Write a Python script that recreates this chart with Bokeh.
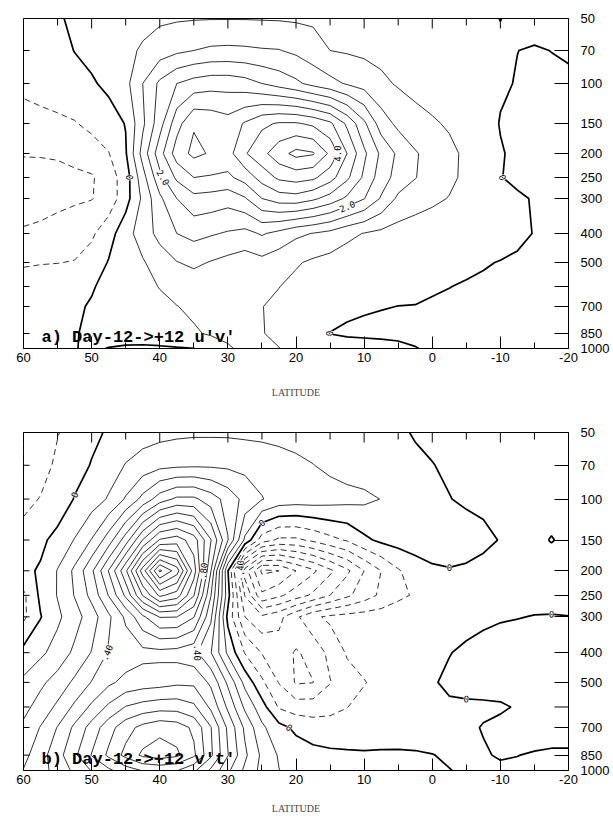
import numpy as np
from bokeh.plotting import figure
from bokeh.plotting.contour import contour_data
from bokeh.layouts import column
from bokeh.models import Range1d, FixedTicker, Label
from bokeh.core.properties import value
from bokeh.embed import file_html
from bokeh.resources import INLINE

# ---------------- data ----------------
LATITUDES = [60, 57.5, 55, 52.5, 50, 47.5, 45, 42.5, 40, 37.5, 35, 32.5, 30, 27.5, 25, 22.5, 20,
             17.5, 15, 12.5, 10, 7.5, 5, 2.5, 0, -2.5, -5, -7.5, -10, -12.5, -15, -17.5, -20]
PRESSURE_LEVELS = [50, 70, 100, 150, 200, 250, 300, 400, 500, 600, 700, 850, 1000]
PRESSURE_TICK_LABELS = ["50", "70", "100", "150", "200", "250", "300", "400", "500", "", "700", "850", "1000"]
LAT_TICKS = [60, 50, 40, 30, 20, 10, 0, -10, -20]
LAT_TICK_LABELS = ["60", "50", "40", "30", "20", "10", "0", "-10", "-20"]
LAT_MINOR_TICKS = [55, 45, 35, 25, 15, 5, -5, -15]

# panel a: u'v'  (rows = pressure levels 50..1000 hPa, columns = latitudes 60..-20)
UV_FIELD = [
    [-0.3, -0.18, -0.05, 0.08, 0.18, 0.26, 0.32, 0.38, 0.42, 0.45, 0.47, 0.48, 0.48, 0.48, 0.47, 0.46, 0.44,
     0.42, 0.4, 0.37, 0.34, 0.31, 0.28, 0.25, 0.22, 0.18, 0.14, 0.06, -0.005, 0.06, 0.15, 0.18, 0.2],
    [-0.38, -0.27, -0.14, 0.01, 0.12, 0.25, 0.4, 0.55, 0.75, 0.9, 1.0, 1.08, 1.1, 1.08, 1.04, 1.02, 0.9,
     0.72, 0.5, 0.45, 0.4, 0.36, 0.32, 0.28, 0.24, 0.2, 0.15, 0.1, 0.05, 0.003, -0.03, 0.005, 0.04],
    [-0.44, -0.37, -0.28, -0.15, -0.05, 0.1, 0.35, 1.0, 1.6, 2.0, 2.2, 2.3, 2.3, 2.2, 2.0, 1.8, 1.6,
     1.35, 1.15, 0.95, 0.8, 0.6, 0.45, 0.37, 0.3, 0.24, 0.18, 0.12, 0.05, -0.02, -0.08, -0.08, -0.06],
    [-0.6, -0.6, -0.58, -0.53, -0.38, -0.2, 0.02, 0.9, 1.8, 2.8, 3.45, 3.35, 3.2, 3.55, 3.9, 4.05, 4.05,
     3.9, 3.6, 2.9, 2.1, 1.25, 0.88, 0.65, 0.55, 0.45, 0.32, 0.18, -0.02, -0.1, -0.15, -0.15, -0.15],
    [-0.95, -0.95, -0.92, -0.85, -0.72, -0.52, -0.05, 1.2, 2.3, 3.25, 3.62, 3.45, 3.3, 3.95, 4.35, 4.8, 5.15,
     5.05, 4.4, 3.5, 2.6, 1.9, 1.4, 1.05, 0.8, 0.6, 0.42, 0.25, 0.03, -0.08, -0.12, -0.14, -0.15],
    [-1.3, -1.25, -1.2, -1.1, -1.05, -0.75, -0.25, 0.8, 1.85, 2.6, 3.0, 2.95, 2.9, 3.2, 3.7, 4.1, 4.2,
     4.1, 3.7, 3.1, 2.4, 1.75, 1.3, 1.02, 0.78, 0.6, 0.4, 0.22, 0.01, -0.06, -0.1, -0.1, -0.1],
    [-1.2, -1.18, -1.12, -1.07, -1.02, -0.8, -0.2, 0.6, 1.4, 2.0, 2.35, 2.3, 2.2, 2.45, 3.0, 3.25, 3.3,
     3.1, 2.8, 2.4, 2.02, 1.45, 0.9, 0.72, 0.6, 0.48, 0.35, 0.22, 0.12, 0.04, -0.02, -0.04, -0.05],
    [-0.95, -0.9, -0.82, -0.72, -0.58, -0.2, 0.3, 0.75, 1.15, 1.5, 1.65, 1.55, 1.45, 1.35, 1.55, 1.35, 1.1,
     0.98, 0.85, 0.62, 0.48, 0.38, 0.3, 0.25, 0.2, 0.16, 0.12, 0.09, 0.06, 0.03, -0.005, -0.03, -0.05],
    [-0.53, -0.52, -0.51, -0.48, -0.3, 0.03, 0.25, 0.45, 0.75, 0.98, 1.1, 0.97, 0.85, 0.75, 0.85, 0.7, 0.55,
     0.42, 0.33, 0.25, 0.19, 0.14, 0.1, 0.08, 0.06, 0.04, 0.025, 0.01, -0.005, -0.02, -0.03, -0.04, -0.05],
    [-0.38, -0.3, -0.22, -0.13, -0.03, 0.1, 0.22, 0.35, 0.52, 0.65, 0.72, 0.7, 0.62, 0.6, 0.6, 0.51, 0.38,
     0.26, 0.18, 0.12, 0.08, 0.05, 0.03, 0.02, 0.01, 0.002, -0.01, -0.02, -0.03, -0.04, -0.05, -0.05, -0.05],
    [-0.28, -0.2, -0.12, -0.05, 0.03, 0.1, 0.17, 0.27, 0.38, 0.49, 0.58, 0.6, 0.58, 0.55, 0.51, 0.4, 0.28,
     0.16, 0.08, 0.04, 0.015, 0.005, -0.001, -0.002, -0.01, -0.02, -0.03, -0.04, -0.05, -0.05, -0.05, -0.05, -0.05],
    [-0.22, -0.12, -0.06, -0.01, 0.03, 0.06, 0.1, 0.15, 0.22, 0.32, 0.45, 0.55, 0.6, 0.58, 0.52, 0.4, 0.25,
     0.1, -0.005, -0.03, -0.03, -0.03, -0.03, -0.03, -0.04, -0.05, -0.05, -0.05, -0.05, -0.05, -0.05, -0.05, -0.05],
    [-0.18, -0.1, -0.04, -0.005, 0.02, -0.005, -0.03, -0.05, -0.05, -0.03, -0.005, 0.2, 0.45, 0.6, 0.6, 0.51, 0.35,
     0.22, 0.15, 0.1, 0.07, 0.05, 0.03, 0.005, -0.02, -0.04, -0.05, -0.05, -0.05, -0.05, -0.05, -0.05, -0.05],
]
UV_NEG_LEVELS = [-1.0, -0.5]
UV_POS_LEVELS = [0.5, 1.0, 1.5, 2.0, 2.5, 3.0, 3.5, 4.0, 4.5, 5.0]
UV_LABELS = [("0", 0.0, 44.0, 250), ("2.0", 2.0, 39.5, 270), ("4.0", 4.0, 14.5, 190),
             ("2.0", 2.0, 11.5, 340), ("0", 0.0, -9.5, 255), ("0", 0.0, 15.5, 860)]

# panel b: v't'
VT_FIELD = [
    [-0.2, -0.15, -0.105, -0.06, -0.02, 0.01, 0.04, 0.06, 0.07, 0.08, 0.085, 0.085, 0.085, 0.08, 0.075, 0.07, 0.065,
     0.06, 0.05, 0.04, 0.03, 0.02, 0.01, -0.005, -0.015, -0.02, -0.025, -0.03, -0.03, -0.03, -0.03, -0.03, -0.03],
    [-0.2, -0.14, -0.08, -0.035, 0.005, 0.05, 0.105, 0.14, 0.17, 0.18, 0.185, 0.185, 0.18, 0.17, 0.16, 0.14, 0.12,
     0.102, 0.08, 0.06, 0.05, 0.035, 0.025, 0.012, 0.002, -0.01, -0.02, -0.025, -0.03, -0.03, -0.03, -0.03, -0.03],
    [-0.13, -0.095, -0.06, 0.005, 0.05, 0.11, 0.21, 0.33, 0.45, 0.52, 0.52, 0.45, 0.36, 0.27, 0.205, 0.16, 0.15,
     0.15, 0.14, 0.13, 0.12, 0.098, 0.07, 0.04, 0.02, 0.002, -0.01, -0.015, -0.02, -0.025, -0.025, -0.025, -0.025],
    [-0.06, -0.02, 0.03, 0.105, 0.205, 0.35, 0.55, 0.805, 1.01, 1.05, 0.95, 0.705, 0.405, 0.08, -0.15, -0.22, -0.22,
     -0.18, -0.13, -0.09, -0.02, 0.02, 0.04, 0.05, 0.05, 0.04, 0.03, 0.015, -0.003, -0.012, -0.014, 0.003, -0.014],
    [-0.02, 0.01, 0.105, 0.22, 0.38, 0.605, 0.88, 1.25, 1.62, 1.45, 1.05, 0.605, 0.005, -0.55, -0.82, -0.8, -0.7,
     -0.62, -0.52, -0.42, -0.3, -0.2, -0.11, -0.05, -0.015, -0.005, -0.01, -0.02, -0.025, -0.03, -0.03, -0.03, -0.03],
    [-0.12, 0.02, 0.105, 0.205, 0.33, 0.505, 0.72, 1.005, 1.22, 1.15, 0.905, 0.505, 0.04, -0.405, -0.68, -0.62, -0.55,
     -0.48, -0.4, -0.32, -0.25, -0.18, -0.12, -0.09, -0.06, -0.045, -0.035, -0.03, -0.025, -0.02, -0.02, -0.02, -0.02],
    [-0.12, -0.005, 0.08, 0.16, 0.25, 0.38, 0.52, 0.68, 0.805, 0.802, 0.705, 0.42, -0.03, -0.3, -0.38, -0.33, -0.22,
     -0.12, -0.08, -0.065, -0.055, -0.05, -0.045, -0.04, -0.035, -0.03, -0.02, -0.012, -0.005, -0.002, 0.002, 0.003, 0.001],
    [0.03, 0.08, 0.14, 0.22, 0.305, 0.41, 0.44, 0.47, 0.47, 0.46, 0.43, 0.305, 0.08, -0.105, -0.205, -0.25, -0.31,
     -0.27, -0.17, -0.09, -0.06, -0.04, -0.03, -0.02, -0.01, -0.002, 0.01, 0.02, 0.025, 0.03, 0.03, 0.03, 0.03],
    [0.12, 0.18, 0.24, 0.32, 0.405, 0.48, 0.53, 0.55, 0.56, 0.58, 0.58, 0.48, 0.28, 0.07, -0.08, -0.205, -0.31,
     -0.302, -0.205, -0.14, -0.105, -0.07, -0.04, -0.02, -0.005, 0.01, 0.02, 0.025, 0.03, 0.03, 0.03, 0.03, 0.03],
    [0.17, 0.24, 0.32, 0.42, 0.52, 0.62, 0.705, 0.74, 0.76, 0.76, 0.72, 0.58, 0.38, 0.18, 0.04, -0.11, -0.15,
     -0.15, -0.13, -0.102, -0.07, -0.045, -0.03, -0.015, -0.003, -0.008, -0.01, -0.01, -0.008, 0.005, 0.02, 0.025, 0.03],
    [0.22, 0.305, 0.405, 0.52, 0.64, 0.76, 0.86, 0.93, 0.97, 0.95, 0.88, 0.705, 0.48, 0.28, 0.12, 0.03, -0.02,
     -0.05, -0.06, -0.06, -0.05, -0.04, -0.03, -0.025, -0.02, -0.015, -0.01, 0.003, 0.015, 0.025, 0.03, 0.03, 0.03],
    [0.27, 0.36, 0.46, 0.58, 0.705, 0.82, 0.93, 1.02, 1.05, 1.02, 0.92, 0.72, 0.505, 0.32, 0.18, 0.09, 0.05,
     0.03, 0.02, 0.015, 0.01, 0.01, 0.008, 0.005, 0.001, -0.005, -0.01, -0.005, 0.005, 0.001, -0.005, -0.01, -0.01],
    [0.305, 0.36, 0.44, 0.52, 0.605, 0.68, 0.75, 0.805, 0.82, 0.805, 0.72, 0.58, 0.42, 0.28, 0.17, 0.102, 0.07,
     0.05, 0.04, 0.03, 0.025, 0.02, 0.015, 0.01, 0.005, 0.001, -0.005, -0.01, -0.01, -0.01, -0.01, -0.01, -0.01],
]
VT_NEG_LEVELS = [-0.9, -0.8, -0.7, -0.6, -0.5, -0.4, -0.3, -0.2, -0.1]
VT_POS_LEVELS = [0.1, 0.2, 0.3, 0.4, 0.5, 0.6, 0.7, 0.8, 0.9, 1.0, 1.1, 1.2, 1.3, 1.4, 1.5, 1.6]
VT_LABELS = [("0", 0.0, 51.5, 88), (".80", 0.8, 33.8, 185), ("-.40", -0.4, 28.0, 195),
             ("0", 0.0, 24.5, 128), (".40", 0.4, 47.5, 400), (".40", 0.4, 34.0, 390),
             ("0", 0.0, -3.0, 195), ("0", 0.0, -16.5, 300), ("0", 0.0, -6.0, 600), ("0", 0.0, 22.0, 740)]

# ---------------- axis layout (vertical position of each pressure level) ----------------
LEVEL_HEIGHT = [0, -32, -65, -105, -135, -159, -180, -215, -244, -268, -288, -315, -330]


def height_of(pres):
    return float(np.interp(np.log(pres), np.log(PRESSURE_LEVELS), LEVEL_HEIGHT))


def make_panel(field, neg_levels, pos_levels, labels, title, frame_h, b_top, b_bottom, b_left, lab_standoff):
    p = figure(frame_width=545, frame_height=frame_h,
               x_range=Range1d(60, -20), y_range=Range1d(-330, 0),
               output_backend="svg", toolbar_location=None, y_axis_location="right",
               min_border_left=b_left, min_border_right=46, min_border_top=b_top,
               min_border_bottom=b_bottom)
    p.grid.visible = False
    p.outline_line_color = "black"
    p.outline_line_width = 1
    p.background_fill_color = "white"
    p.border_fill_color = "white"

    kx = 545.0 / 80.0          # screen px per degree
    ky = frame_h / 330.0       # screen px per height unit

    X, Y = np.meshgrid(np.array(LATITUDES, dtype=float), np.array(LEVEL_HEIGHT, dtype=float))
    Z = np.array(field, dtype=float)

    def draw(levels, **kw):
        ld = contour_data(X, Y, Z, levels, want_fill=False, want_line=True).line_data
        p.multi_line(xs=[np.asarray(a) for a in ld.xs], ys=[np.asarray(a) for a in ld.ys], **kw)

    draw(neg_levels, line_color="#1a1a1a", line_width=0.9, line_dash="6 4")
    draw(pos_levels, line_color="#1a1a1a", line_width=0.9)
    draw([0.0], line_color="black", line_width=1.7)

    # contour labels, snapped onto the computed contour lines
    lx, ly, lt, la = [], [], [], []
    for text, lev, lat, pres in labels:
        ld = contour_data(X, Y, Z, [lev], want_fill=False, want_line=True).line_data
        xs = np.asarray(ld.xs[0], dtype=float)
        ys = np.asarray(ld.ys[0], dtype=float)
        if xs.size == 0:
            continue
        tx, ty = lat, height_of(pres)
        d = ((xs - tx) * kx) ** 2 + ((ys - ty) * ky) ** 2
        d[np.isnan(d)] = np.inf
        i = int(np.argmin(d))
        i0 = i - 1 if i > 0 and not np.isnan(xs[i - 1]) else i
        i1 = i + 1 if i + 1 < xs.size and not np.isnan(xs[i + 1]) else i
        dx = -(xs[i1] - xs[i0]) * kx
        dy = (ys[i1] - ys[i0]) * ky
        ang = np.arctan2(dy, dx)
        if ang > np.pi / 2:
            ang -= np.pi
        if ang < -np.pi / 2:
            ang += np.pi
        lx.append(xs[i]); ly.append(ys[i]); lt.append(text); la.append(ang)
    p.text(x=lx, y=ly, text=lt, angle=la, text_font=value("DejaVu Sans Mono"),
           text_font_size="9px", text_align="center", text_baseline="middle",
           text_color="black", background_fill_color="white")

    # bottom axis (labelled)
    xa = p.xaxis[0]
    xa.ticker = FixedTicker(ticks=LAT_TICKS, minor_ticks=LAT_MINOR_TICKS)
    xa.major_label_overrides = {t: s for t, s in zip(LAT_TICKS, LAT_TICK_LABELS)}
    xa.major_tick_in = 12
    xa.major_tick_out = 0
    xa.minor_tick_in = 6
    xa.minor_tick_out = 0
    xa.axis_line_color = None
    xa.major_label_standoff = 4
    xa.major_label_text_font = "Liberation Sans"
    xa.major_label_text_font_size = "13px"
    xa.major_label_text_color = "black"
    xa.axis_label = "LATITUDE"
    xa.axis_label_text_font = "Liberation Serif"
    xa.axis_label_text_font_style = "normal"
    xa.axis_label_text_font_size = "10px"
    xa.axis_label_standoff = lab_standoff

    # right axis (labelled pressure levels)
    lab_h = [h for h, s in zip(LEVEL_HEIGHT, PRESSURE_TICK_LABELS) if s]
    lab_s = [s for s in PRESSURE_TICK_LABELS if s]
    ya = p.yaxis[0]
    ya.ticker = FixedTicker(ticks=lab_h, minor_ticks=[])
    ya.major_label_overrides = {h: s for h, s in zip(lab_h, lab_s)}
    ya.major_tick_in = 14
    ya.major_tick_out = 0
    ya.minor_tick_line_color = None
    ya.axis_line_color = None
    ya.major_label_standoff = 12
    ya.major_label_text_font = "Liberation Sans"
    ya.major_label_text_font_size = "13px"
    ya.major_label_text_color = "black"

    # unlabelled tick marks: top edge, left edge, and unlabelled right-edge level
    top_major = 10.0 / ky
    top_minor = 7.0 / ky
    p.segment(x0=LAT_TICKS, x1=LAT_TICKS, y0=[0.0] * len(LAT_TICKS), y1=[-top_major] * len(LAT_TICKS),
              line_color="black", line_width=1)
    p.segment(x0=LAT_MINOR_TICKS, x1=LAT_MINOR_TICKS, y0=[0.0] * len(LAT_MINOR_TICKS),
              y1=[-top_minor] * len(LAT_MINOR_TICKS), line_color="black", line_width=1)
    n = len(LEVEL_HEIGHT)
    p.segment(x0=[60.0] * n, x1=[60.0 - 6.0 / kx] * n, y0=LEVEL_HEIGHT, y1=LEVEL_HEIGHT,
              line_color="black", line_width=1)
    un_h = [h for h, s in zip(LEVEL_HEIGHT, PRESSURE_TICK_LABELS) if not s]
    p.segment(x0=[-20.0] * len(un_h), x1=[-20.0 + 14.0 / kx] * len(un_h), y0=un_h, y1=un_h,
              line_color="black", line_width=1)

    p.add_layout(Label(x=18, y=2, x_units="screen", y_units="screen", text=title,
                       text_font="Liberation Mono", text_font_style="bold",
                       text_font_size="17px", text_color="black"))
    return p


pa = make_panel(UV_FIELD, UV_NEG_LEVELS, UV_POS_LEVELS, UV_LABELS,
                "a) Day-12->+12 u'v'", 330, 18, 62, 22, 22)
pb = make_panel(VT_FIELD, VT_NEG_LEVELS, VT_POS_LEVELS, VT_LABELS,
                "b) Day-12->+12 v't'", 338, 22, 48, 23, 16)

layout = column(pa, pb, spacing=0)
open("out.html", "w").write(file_html(layout, INLINE))
